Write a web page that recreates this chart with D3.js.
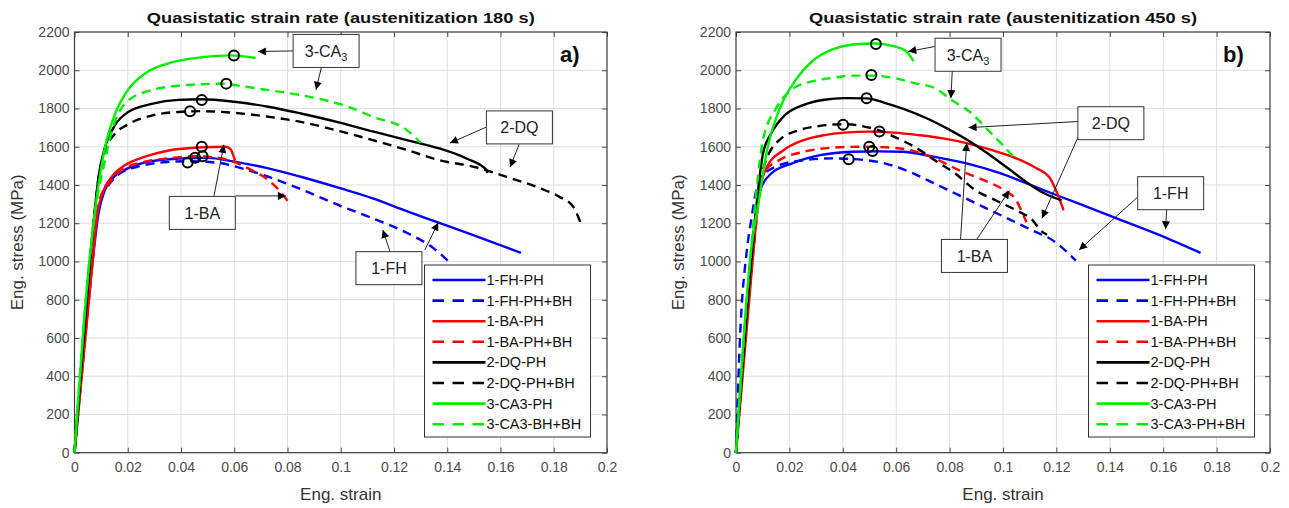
<!DOCTYPE html>
<html><head><meta charset="utf-8">
<script src="https://cdn.jsdelivr.net/npm/d3@7"></script>
<style>
body{margin:0;background:#fff}
svg{display:block}
text{font-family:"Liberation Sans",Arial,Helvetica,sans-serif}
</style>
</head><body>
<svg id="c" width="1289" height="508"></svg>
<script>
// ---------- tick labels / categories ----------
const xTicks = [0,0.02,0.04,0.06,0.08,0.1,0.12,0.14,0.16,0.18,0.2];
const yTicks = [0,200,400,600,800,1000,1200,1400,1600,1800,2000,2200];
const seriesNamesA = ["1-FH-PH","1-FH-PH+BH","1-BA-PH","1-BA-PH+BH","2-DQ-PH","2-DQ-PH+BH","3-CA3-PH","3-CA3-BH+BH"];
const seriesNamesB = ["1-FH-PH","1-FH-PH+BH","1-BA-PH","1-BA-PH+BH","2-DQ-PH","2-DQ-PH+BH","3-CA3-PH","3-CA3-PH+BH"];
const seriesColors = ["#0000ff","#0000ff","#ff0000","#ff0000","#000000","#000000","#00ee00","#00ee00"];
const seriesDashed = [false,true,false,true,false,true,false,true];
const titleA = "Quasistatic strain rate (austenitization 180 s)";
const titleB = "Quasistatic strain rate (austenitization 450 s)";

// ---------- panel a: [strain, stress MPa] ----------
const a_FH_PH = [[0,0],[0.0068,1000],[0.009,1250],[0.011,1360],[0.014,1430],[0.020,1487],[0.029,1525],[0.039,1538],[0.050,1542],[0.060,1522],[0.0728,1487],[0.085,1443],[0.100,1382],[0.112,1330],[0.125,1262],[0.137,1202],[0.150,1137],[0.1677,1045]];
const a_FH_BH = [[0,0],[0.0065,1000],[0.009,1300],[0.0105,1345],[0.0165,1455],[0.025,1500],[0.035,1520],[0.0425,1524],[0.054,1516],[0.0628,1487],[0.0728,1443],[0.085,1378],[0.100,1290],[0.112,1226],[0.1248,1150],[0.1348,1070],[0.1403,1003]];
const a_BA_PH = [[0,0],[0.0068,1000],[0.0085,1240],[0.0105,1357],[0.014,1443],[0.019,1504],[0.0265,1548],[0.035,1579],[0.0478,1597],[0.0565,1600],[0.0584,1591],[0.0596,1557],[0.0603,1527]];
const a_BA_BH = [[0,0],[0.0068,1000],[0.0085,1240],[0.0096,1330],[0.0134,1417],[0.0178,1478],[0.0265,1522],[0.035,1539],[0.045,1550],[0.050,1548],[0.0578,1530],[0.0665,1478],[0.0728,1426],[0.0778,1357],[0.081,1300]];
const a_DQ_PH = [[0,0],[0.0058,1000],[0.0075,1250],[0.009,1440],[0.0115,1600],[0.0153,1715],[0.020,1780],[0.029,1824],[0.039,1845],[0.0478,1848],[0.060,1835],[0.0728,1809],[0.085,1774],[0.100,1725],[0.112,1680],[0.1248,1635],[0.137,1591],[0.147,1540],[0.1548,1478],[0.155,1462]];
const a_DQ_BH = [[0,0],[0.0058,1000],[0.0075,1250],[0.009,1430],[0.0115,1580],[0.0153,1670],[0.0196,1713],[0.029,1763],[0.039,1782],[0.0478,1786],[0.060,1777],[0.0728,1757],[0.085,1730],[0.100,1680],[0.112,1635],[0.1248,1583],[0.137,1530],[0.150,1495],[0.162,1444],[0.1748,1383],[0.182,1339],[0.1873,1287],[0.190,1205]];
const a_CA_PH = [[0,0],[0.0053,960],[0.0085,1350],[0.0115,1600],[0.0153,1774],[0.020,1896],[0.0265,1983],[0.035,2035],[0.048,2068],[0.059,2078],[0.068,2064]];
const a_CA_BH = [[0,0],[0.0053,960],[0.0085,1330],[0.011,1500],[0.014,1680],[0.0196,1835],[0.029,1896],[0.0415,1922],[0.0565,1930],[0.0603,1922],[0.0728,1896],[0.085,1870],[0.0915,1852],[0.1028,1809],[0.112,1757],[0.1248,1687],[0.130,1622]];
const a_peaks = [[0.0425,1517],[0.0453,1542],[0.0481,1550],[0.0478,1600],[0.0478,1845],[0.0434,1786],[0.0599,2077],[0.057,1930]];

// ---------- panel b ----------
const b_FH_PH = [[0,0],[0.0055,1000],[0.0086,1354],[0.0132,1460],[0.0208,1512],[0.0315,1556],[0.0438,1574],[0.053,1576],[0.0622,1574],[0.0744,1547],[0.0867,1512],[0.0989,1462],[0.1112,1395],[0.1204,1345],[0.1296,1296],[0.1433,1222],[0.1587,1138],[0.174,1045]];
const b_FH_BH = [[0,0],[0.0015,600],[0.004,1050],[0.0055,1200],[0.0086,1420],[0.0147,1495],[0.0254,1530],[0.0361,1539],[0.0484,1530],[0.056,1512],[0.0652,1468],[0.0744,1407],[0.0836,1346],[0.0928,1284],[0.102,1223],[0.1112,1161],[0.1188,1109],[0.1273,1004]];
const b_BA_PH = [[0,0],[0.0065,1050],[0.0085,1330],[0.0116,1495],[0.0178,1582],[0.0254,1635],[0.0331,1661],[0.0407,1674],[0.0499,1679],[0.0591,1674],[0.0683,1661],[0.0775,1644],[0.0867,1618],[0.0959,1582],[0.105,1539],[0.1127,1486],[0.1173,1442],[0.1204,1354],[0.1227,1267]];
const b_BA_BH = [[0,0],[0.0065,1050],[0.0101,1460],[0.0162,1530],[0.0254,1574],[0.0361,1595],[0.0469,1600],[0.056,1597],[0.0652,1582],[0.0744,1539],[0.0836,1477],[0.0928,1425],[0.1005,1372],[0.105,1319],[0.1074,1249],[0.1088,1205]];
const b_DQ_PH = [[0,0],[0.006,1050],[0.0101,1565],[0.0132,1670],[0.0178,1758],[0.0254,1819],[0.0331,1846],[0.0407,1854],[0.0489,1853],[0.056,1828],[0.0637,1793],[0.0714,1749],[0.079,1696],[0.0867,1635],[0.0943,1565],[0.102,1486],[0.1096,1407],[0.1158,1354],[0.1219,1319]];
const b_DQ_BH = [[0,0],[0.006,1050],[0.0101,1480],[0.0162,1635],[0.0239,1688],[0.0315,1709],[0.0401,1718],[0.0469,1709],[0.053,1688],[0.0591,1653],[0.0668,1600],[0.0744,1530],[0.0821,1460],[0.0897,1372],[0.0974,1319],[0.105,1267],[0.1112,1214],[0.1142,1161],[0.1165,1140]];
const b_CA_PH = [[0,0],[0.0055,1040],[0.0086,1319],[0.0116,1582],[0.0162,1793],[0.0224,1951],[0.0285,2047],[0.0361,2109],[0.0438,2135],[0.0522,2140],[0.059,2126],[0.0637,2100],[0.0665,2047]];
const b_CA_BH = [[0,0],[0.0055,1040],[0.0101,1635],[0.0147,1793],[0.0208,1898],[0.0285,1942],[0.0361,1960],[0.0438,1972],[0.0507,1972],[0.059,1960],[0.0668,1933],[0.0744,1907],[0.0806,1846],[0.0882,1775],[0.0943,1688],[0.1005,1600],[0.105,1530]];
const b_peaks = [[0.0422,1535],[0.0511,1578],[0.0537,1680],[0.0499,1600],[0.0489,1853],[0.0401,1715],[0.0524,2137],[0.0507,1975]];

// ---------- annotations (box centre and arrow ends in data units) ----------
const annotA = [
  {label:"3-CA", sub:"3", at:[0.0945,2101], arrows:[[[0.0821,2101],[0.0689,2098]],[[0.0928,2019],[0.0907,1898]]]},
  {label:"2-DQ", sub:"", at:[0.1671,1701], arrows:[[[0.1546,1702],[0.141,1619]],[[0.167,1613],[0.1636,1493]]]},
  {label:"1-BA", sub:"", at:[0.048,1254], arrows:[[[0.0524,1343],[0.0561,1610]],[[0.0605,1343],[0.0794,1343]]]},
  {label:"1-FH", sub:"", at:[0.1181,965], arrows:[[[0.1185,1052],[0.1158,1165]],[[0.1316,1060],[0.1366,1203]]]}
];
const annotB = [
  {label:"3-CA", sub:"3", at:[0.0869,2081], arrows:[[[0.0744,2124],[0.0645,2098]],[[0.081,1998],[0.0805,1854]]]},
  {label:"2-DQ", sub:"", at:[0.1404,1723], arrows:[[[0.1281,1732],[0.0871,1700]],[[0.1281,1650],[0.1146,1226]]]},
  {label:"1-FH", sub:"", at:[0.1628,1357], arrows:[[[0.1506,1339],[0.1285,1060]],[[0.1613,1273],[0.1609,1169]]]},
  {label:"1-BA", sub:"", at:[0.0893,1029], arrows:[[[0.0841,1116],[0.0864,1619]],[[0.0902,1116],[0.1024,1371]]]}
];

// ---------- drawing ----------
const svg = d3.select("#c");
const defs = svg.append("defs");
defs.append("marker").attr("id","ah").attr("viewBox","0 0 10 10").attr("refX",10).attr("refY",5)
  .attr("markerWidth",9).attr("markerHeight",8).attr("markerUnits","userSpaceOnUse").attr("orient","auto")
  .append("path").attr("d","M0,0L10,5L0,10Z").attr("fill","#000");

const TOP = 32, BOTTOM = 452.7;
const panels = [
  {left:74.5, right:607, title:titleA, tag:"a)", series:[a_FH_PH,a_FH_BH,a_BA_PH,a_BA_BH,a_DQ_PH,a_DQ_BH,a_CA_PH,a_CA_BH], peaks:a_peaks, names:seriesNamesA, notes:annotA, legX:424.5},
  {left:736, right:1270, title:titleB, tag:"b)", series:[b_FH_PH,b_FH_BH,b_BA_PH,b_BA_BH,b_DQ_PH,b_DQ_BH,b_CA_PH,b_CA_BH], peaks:b_peaks, names:seriesNamesB, notes:annotB, legX:1088.5}
];
const fmt = d => String(+d.toFixed(2));
const tickColor = "#4a4a4a";

panels.forEach(p => {
  const g = svg.append("g");
  const x = d3.scaleLinear().domain([0,0.2]).range([p.left,p.right]);
  const y = d3.scaleLinear().domain([0,2200]).range([BOTTOM,TOP]);

  // grid
  g.append("g").selectAll("line.gx").data(xTicks.slice(1,-1)).join("line")
    .attr("x1",d=>x(d)).attr("x2",d=>x(d)).attr("y1",TOP).attr("y2",BOTTOM)
    .attr("stroke","#dedede").attr("stroke-width",1);
  g.append("g").selectAll("line.gy").data(yTicks.slice(1,-1)).join("line")
    .attr("x1",p.left).attr("x2",p.right).attr("y1",d=>y(d)).attr("y2",d=>y(d))
    .attr("stroke","#dedede").attr("stroke-width",1);

  // axes
  const ax = [
    g.append("g").attr("transform",`translate(0,${BOTTOM})`).call(d3.axisBottom(x).tickValues(xTicks).tickFormat(fmt).tickSizeInner(-5).tickSizeOuter(0).tickPadding(9)),
    g.append("g").attr("transform",`translate(${p.left},0)`).call(d3.axisLeft(y).tickValues(yTicks).tickFormat(d3.format("d")).tickSizeInner(-5).tickSizeOuter(0).tickPadding(5)),
    g.append("g").attr("transform",`translate(0,${TOP})`).call(d3.axisTop(x).tickValues(xTicks).tickFormat("").tickSizeInner(-5).tickSizeOuter(0)),
    g.append("g").attr("transform",`translate(${p.right},0)`).call(d3.axisRight(y).tickValues(yTicks).tickFormat("").tickSizeInner(-5).tickSizeOuter(0))
  ];
  ax.forEach(a => {
    a.select(".domain").remove();
    a.selectAll(".tick line").attr("stroke",tickColor);
    a.selectAll(".tick text").attr("fill",tickColor).style("font-size","14px").style("font-family","'Liberation Sans',Arial,sans-serif");
  });
  g.append("rect").attr("x",p.left).attr("y",TOP).attr("width",p.right-p.left).attr("height",BOTTOM-TOP)
    .attr("fill","none").attr("stroke","#3a3a3a").attr("stroke-width",1.2);

  // curves
  const line = d3.line().x(d=>x(d[0])).y(d=>y(d[1])).curve(d3.curveMonotoneX);
  p.series.forEach((s,i) => {
    g.append("path").attr("d",line(s)).attr("fill","none")
      .attr("stroke",seriesColors[i]).attr("stroke-width",2.4)
      .attr("stroke-dasharray",seriesDashed[i]?"9,6":null)
      .attr("stroke-linejoin","round");
  });
  // peak markers
  g.append("g").selectAll("circle").data(p.peaks).join("circle")
    .attr("cx",d=>x(d[0])).attr("cy",d=>y(d[1])).attr("r",5)
    .attr("fill","none").attr("stroke","#000").attr("stroke-width",2);

  // annotations
  p.notes.forEach(n => {
    n.arrows.forEach(a => {
      g.append("line").attr("x1",x(a[0][0])).attr("y1",y(a[0][1])).attr("x2",x(a[1][0])).attr("y2",y(a[1][1]))
        .attr("stroke","#222").attr("stroke-width",1).attr("marker-end","url(#ah)");
    });
    const cx = x(n.at[0]), cy = y(n.at[1]);
    g.append("rect").attr("x",cx-33).attr("y",cy-16.5).attr("width",66).attr("height",33)
      .attr("fill","#fff").attr("stroke","#333").attr("stroke-width",1);
    const t = g.append("text").attr("x",cx).attr("y",cy+6).attr("text-anchor","middle")
      .style("font-size","16px").attr("fill","#222").text(n.label);
    if (n.sub) t.append("tspan").attr("dy",4).style("font-size","11px").text(n.sub);
  });

  // panel tag
  g.append("text").attr("x",p.right-47).attr("y",62).style("font-size","22px").style("font-weight","bold").attr("fill","#111").text(p.tag);

  // title
  g.append("text").attr("x",(p.left+p.right)/2).attr("y",23).attr("text-anchor","middle")
    .style("font-size","15px").style("font-weight","bold").attr("fill","#111")
    .attr("textLength",388).attr("lengthAdjust","spacingAndGlyphs").text(p.title);
  // axis labels
  g.append("text").attr("x",(p.left+p.right)/2).attr("y",500).attr("text-anchor","middle")
    .style("font-size","17px").attr("fill","#333").text("Eng. strain");
  g.append("text").attr("transform",`translate(${p.left-52},${(TOP+BOTTOM)/2}) rotate(-90)`).attr("text-anchor","middle")
    .style("font-size","17px").attr("fill","#333").text("Eng. stress (MPa)");

  // legend
  const lx = p.legX, ly = 265, lw = 166, lh = 172;
  const lg = g.append("g");
  lg.append("rect").attr("x",lx).attr("y",ly).attr("width",lw).attr("height",lh)
    .attr("fill","#fff").attr("stroke","#333").attr("stroke-width",1);
  p.names.forEach((nm,i) => {
    const yy = ly + 15 + i*20.6;
    lg.append("line").attr("x1",lx+8).attr("x2",lx+61).attr("y1",yy).attr("y2",yy)
      .attr("stroke",seriesColors[i]).attr("stroke-width",2.6)
      .attr("stroke-dasharray",seriesDashed[i]?"11.5,8.5":null);
    lg.append("text").attr("x",lx+62).attr("y",yy+5).style("font-size","14.5px").attr("fill","#111").text(nm);
  });
});
</script>
</body></html>
